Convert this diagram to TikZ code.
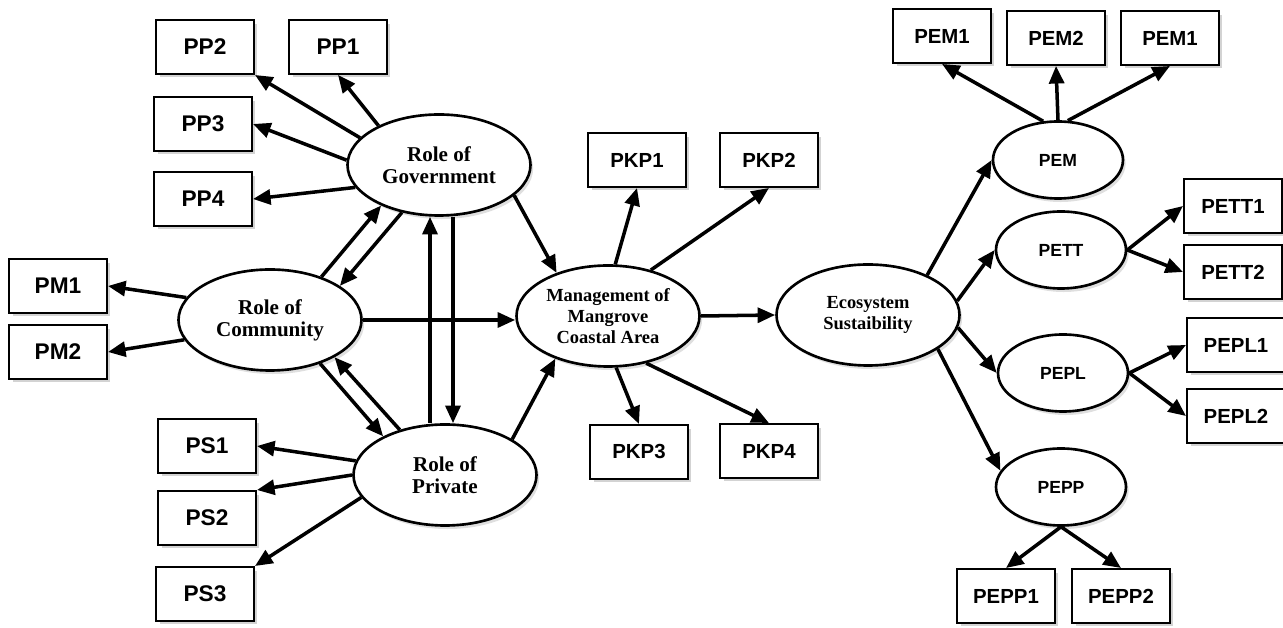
\documentclass[tikz,border=0pt]{standalone}
\usepackage{fontspec}
\setmainfont{Liberation Serif}
\setsansfont{Liberation Sans}
\usetikzlibrary{shapes.geometric,arrows.meta,shadows}

\tikzset{
    indbox/.style={draw, line width=1.4pt, fill=white, minimum width=1.95cm, minimum height=1.07cm, inner sep=0pt,
        font=\sffamily\bfseries\fontsize{11.6}{13}\selectfont,
        drop shadow={shadow xshift=2pt, shadow yshift=-2pt, opacity=0.35}},
    bigbox/.style={indbox, font=\sffamily\bfseries\fontsize{12.9}{14}\selectfont},
    role/.style={ellipse, draw, line width=1.5pt, fill=white, minimum width=3.66cm, minimum height=2.02cm, inner sep=0pt,
        align=center, font=\bfseries\fontsize{12}{12.5}\selectfont,
        drop shadow={shadow xshift=1.5pt, shadow yshift=-2pt, opacity=0.25}},
    core/.style={role, font=\bfseries\fontsize{10.5}{12}\selectfont},
    dimen/.style={role, minimum width=2.6cm, minimum height=1.54cm, font=\sffamily\bfseries\fontsize{10}{12}\selectfont},
    arr/.style={-{Triangle[length=10pt,width=8.5pt]}, line width=2pt}
}

\begin{document}
\begin{tikzpicture}
    \useasboundingbox (0,0) rectangle (25.66,12.56);

    \node[role] (gov) at (8.78,9.26) {Role of\\Government};
    \node[role] (comm) at (5.40,6.16) {Role of\\Community};
    \node[role] (priv) at (8.90,3.06) {Role of\\Private};
    \node[core] (mgmt) at (12.16,6.24) {Management of\\Mangrove\\Coastal Area};
    \node[core] (eco) at (17.36,6.26) {Ecosystem\\Sustaibility};
    \node[dimen] (pem) at (21.16,9.36) {PEM};
    \node[dimen] (pett) at (21.22,7.56) {PETT};
    \node[dimen] (pepl) at (21.26,5.10) {PEPL};
    \node[dimen] (pepp) at (21.22,2.82) {PEPP};

    \node[bigbox] (pp2) at (4.10,11.62) {PP2};
    \node[bigbox] (pp1) at (6.76,11.62) {PP1};
    \node[bigbox] (pp3) at (4.06,10.08) {PP3};
    \node[bigbox] (pp4) at (4.06,8.58) {PP4};
    \node[bigbox] (pm1) at (1.16,6.84) {PM1};
    \node[bigbox] (pm2) at (1.16,5.52) {PM2};
    \node[bigbox] (ps1) at (4.14,3.64) {PS1};
    \node[bigbox] (ps2) at (4.14,2.20) {PS2};
    \node[bigbox] (ps3) at (4.10,0.68) {PS3};

    \node[indbox] (pkp1) at (12.74,9.36) {PKP1};
    \node[indbox] (pkp2) at (15.38,9.36) {PKP2};
    \node[indbox] (pkp3) at (12.78,3.52) {PKP3};
    \node[indbox] (pkp4) at (15.38,3.54) {PKP4};
    \node[indbox] (pem1a) at (18.84,11.84) {PEM1};
    \node[indbox] (pem2) at (21.12,11.80) {PEM2};
    \node[indbox] (pem1b) at (23.40,11.80) {PEM1};
    \node[indbox] (pett1) at (24.66,8.44) {PETT1};
    \node[indbox] (pett2) at (24.66,7.12) {PETT2};
    \node[indbox] (pepl1) at (24.72,5.66) {PEPL1};
    \node[indbox] (pepl2) at (24.72,4.24) {PEPL2};
    \node[indbox] (pepp1) at (20.12,0.64) {PEPP1};
    \node[indbox] (pepp2) at (22.42,0.64) {PEPP2};

    \draw[arr] (gov.147) -- (pp1.south);
    \draw[arr] (gov.161) -- (pp2.south east);
    \draw[arr] (gov.177) -- (pp3.east);
    \draw[arr] (gov.195) -- (pp4.east);
    \draw[arr] (comm.165) -- (pm1.east);
    \draw[arr] (comm.193) -- (pm2.east);
    \draw[arr] (priv.171) -- (ps1.east);
    \draw[arr] (priv.west) -- (ps2.north east);
    \draw[arr] (priv.195) -- (ps3.north east);

    \draw[arr] (comm.40) -- (gov.215);
    \draw[arr] (gov.232) -- (comm.26);
    \draw[arr] (comm.-41) -- (priv.148);
    \draw[arr] (priv.135) -- (comm.-30);
    \draw[arr] ([xshift=-0.3cm]priv.north) -- ([xshift=-0.3cm]priv.north |- gov.south);
    \draw[arr] ([xshift=0.16cm]priv.north |- gov.south) -- ([xshift=0.16cm]priv.north);

    \draw[arr] (gov.-22) -- (mgmt.140);
    \draw[arr] (comm.east) -- (comm.east -| mgmt.west);
    \draw[arr] (priv.28) -- (mgmt.219);
    \draw[arr] (mgmt.82) -- (pkp1.south);
    \draw[arr] (mgmt.47) -- (pkp2.south);
    \draw[arr] (mgmt.-81) -- (pkp3.north);
    \draw[arr] (mgmt.-51) -- (pkp4.north);
    \draw[arr] (mgmt.east) -- (eco.west);

    \draw[arr] (eco.34) -- (pem.west);
    \draw[arr] (eco.9) -- (pett.west);
    \draw[arr] (eco.-8) -- (pepl.west);
    \draw[arr] (eco.-26) -- (pepp.165);
    \draw[arr] (pem.111) -- (pem1a.south);
    \draw[arr] (pem.north) -- (pem2.south);
    \draw[arr] (pem.76) -- (pem1b.south);
    \draw[arr] (pett.east) -- (pett1.west);
    \draw[arr] (pett.east) -- (pett2.west);
    \draw[arr] (pepl.east) -- (pepl1.west);
    \draw[arr] (pepl.east) -- (pepl2.west);
    \draw[arr] (pepp.south) -- (pepp1.north);
    \draw[arr] (pepp.south) -- (pepp2.north);
\end{tikzpicture}
\end{document}
